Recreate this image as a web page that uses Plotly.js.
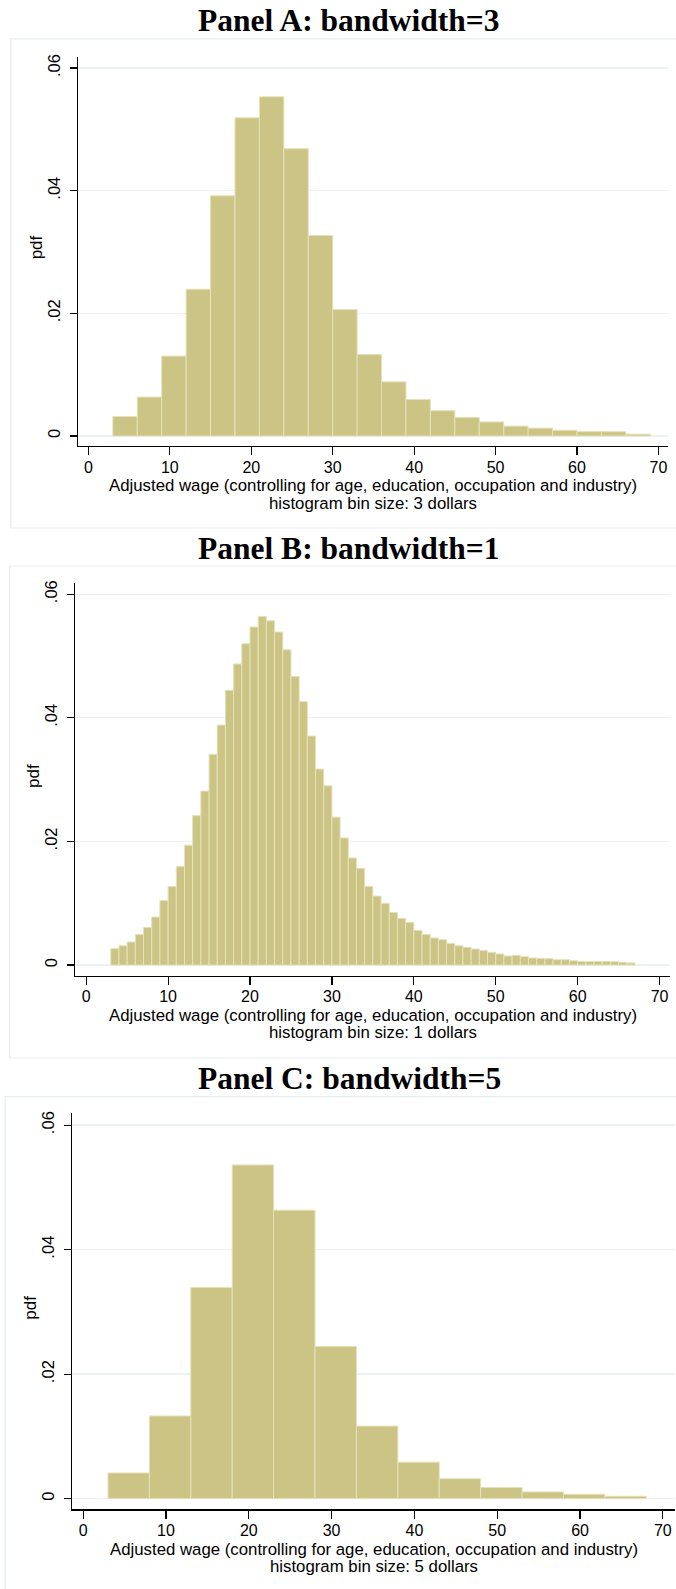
<!DOCTYPE html>
<html>
<head>
<meta charset="utf-8">
<script src="https://cdn.plot.ly/plotly-3.0.1.min.js"></script>
<style>
html,body{margin:0;padding:0;background:#ffffff;}
#chart{width:676px;height:1589px;}
</style>
</head>
<body>
<div id="chart"></div>
<script>
// ---------------- data ----------------
const panelTitles = ["Panel A: bandwidth=3", "Panel B: bandwidth=1", "Panel C: bandwidth=5"];
const xAxisTitle = "Adjusted wage (controlling for age, education, occupation and industry)";
const binNotes = ["histogram bin size: 3 dollars", "histogram bin size: 1 dollars", "histogram bin size: 5 dollars"];
const yAxisTitle = "pdf";

const xTickVals = [0, 10, 20, 30, 40, 50, 60, 70];
const xTickText = ["0", "10", "20", "30", "40", "50", "60", "70"];
const yTickVals = [0, 0.02, 0.04, 0.06];
const yTickText = ["0", ".02", ".04", ".06"];

// Panel A: bin width 3 dollars
const binWidthA = 3;
const binLeftA = [3, 6, 9, 12, 15, 18, 21, 24, 27, 30, 33, 36, 39, 42, 45, 48, 51, 54, 57, 60, 63, 66];
const pdfA = [0.00317, 0.00634, 0.01303, 0.02394, 0.03916, 0.05188, 0.05531, 0.04685, 0.03269, 0.02061,
              0.01328, 0.00883, 0.00596, 0.00413, 0.00304, 0.00230, 0.00161, 0.00128, 0.00093, 0.00071,
              0.00070, 0.00030];

// Panel B: bin width 1 dollar
const binWidthB = 1;
const binLeftB = [3, 4, 5, 6, 7, 8, 9, 10, 11, 12, 13, 14, 15, 16, 17, 18, 19, 20, 21, 22, 23, 24, 25, 26,
                  27, 28, 29, 30, 31, 32, 33, 34, 35, 36, 37, 38, 39, 40, 41, 42, 43, 44, 45, 46, 47, 48,
                  49, 50, 51, 52, 53, 54, 55, 56, 57, 58, 59, 60, 61, 62, 63, 64, 65, 66];
const pdfB = [0.00266, 0.00312, 0.00374, 0.00494, 0.00608, 0.00777, 0.01046, 0.01271, 0.01594, 0.01940,
              0.02418, 0.02814, 0.03410, 0.03882, 0.04444, 0.04871, 0.05197, 0.05468, 0.05640, 0.05570,
              0.05387, 0.05099, 0.04670, 0.04262, 0.03705, 0.03170, 0.02899, 0.02393, 0.02056, 0.01733,
              0.01564, 0.01271, 0.01116, 0.01000, 0.00850, 0.00752, 0.00688, 0.00562, 0.00494, 0.00438,
              0.00410, 0.00350, 0.00312, 0.00288, 0.00260, 0.00234, 0.00206, 0.00180, 0.00147, 0.00158,
              0.00136, 0.00114, 0.00109, 0.00103, 0.00087, 0.00087, 0.00071, 0.00060, 0.00057, 0.00057,
              0.00057, 0.00055, 0.00046, 0.00035];

// Panel C: bin width 5 dollars
const binWidthC = 5;
const binLeftC = [3, 8, 13, 18, 23, 28, 33, 38, 43, 48, 53, 58, 63];
const pdfC = [0.00412, 0.01328, 0.03393, 0.05360, 0.04634, 0.02444, 0.01165, 0.00585, 0.00320,
              0.00179, 0.00108, 0.00070, 0.00038];

// ---------------- layout geometry (pixels) ----------------
const W = 676, H = 1589;
const geom = [
  {L: 78,   R: 668,   T: 56.7,   B: 446,    xr: [-1.28, 71.18], yr: [-0.00163, 0.06185], titleY: 20.3,  box: [10.8, 38.9, 720, 528]},
  {L: 75.4, R: 670,   T: 583.4,  B: 975.6,  xr: [-1.32, 71.28], yr: [-0.00170, 0.06174], titleY: 549.0, box: [9.5, 566, 720, 1058]},
  {L: 72.4, R: 674.6, T: 1113.3, B: 1509.4, xr: [-1.30, 71.42], yr: [-0.00173, 0.06190], titleY: 1078.3, box: [5.2, 1096.7, 720, 1620]}
];

const barFill = "rgb(203,196,132)";
const barLine = "rgb(229,225,186)";
const gridCol = "rgb(234,242,243)";
const boxCol  = "rgb(230,237,239)";
const sansFont = "Liberation Sans, Arial, sans-serif";
const serifFont = "Liberation Serif, Times New Roman, serif";

const px = v => v / W;
const py = v => 1 - v / H;

const series = [
  {left: binLeftA, y: pdfA, w: binWidthA},
  {left: binLeftB, y: pdfB, w: binWidthB},
  {left: binLeftC, y: pdfC, w: binWidthC}
];

const traces = [];
const layout = {
  width: W, height: H,
  margin: {l: 0, r: 0, t: 0, b: 0},
  paper_bgcolor: "#ffffff",
  plot_bgcolor: "rgba(0,0,0,0)",
  showlegend: false,
  annotations: [],
  shapes: []
};

series.forEach((s, i) => {
  const g = geom[i];
  const sfx = i === 0 ? "" : String(i + 1);
  traces.push({
    type: "bar",
    x: s.left,
    y: s.y,
    width: s.left.map(() => s.w),
    offset: 0,
    xaxis: "x" + sfx,
    yaxis: "y" + sfx,
    marker: {color: barFill, line: {color: barLine, width: 1}},
    hoverinfo: "x+y"
  });

  layout["xaxis" + sfx] = {
    domain: [px(g.L), px(g.R)],
    range: g.xr,
    anchor: "y" + sfx,
    tickmode: "array", tickvals: xTickVals, ticktext: xTickText,
    ticks: "outside", ticklen: 8, tickwidth: 1.2, tickcolor: "#000",
    ticklabelstandoff: -2,
    showline: true, linecolor: "#000", linewidth: 1.4,
    showgrid: false, zeroline: false,
    tickfont: {family: sansFont, size: 16, color: "#000"}
  };
  layout["yaxis" + sfx] = {
    domain: [py(g.B), py(g.T)],
    range: g.yr,
    anchor: "x" + sfx,
    tickmode: "array", tickvals: yTickVals, ticktext: yTickText,
    tickangle: -90,
    ticks: "outside", ticklen: 7, tickwidth: 1.2, tickcolor: "#000",
    ticklabelstandoff: 3,
    showline: true, linecolor: "#000", linewidth: 1.4,
    showgrid: true, gridcolor: gridCol, gridwidth: 1.3, zeroline: false,
    tickfont: {family: sansFont, size: 16.5, color: "#000"}
  };

  // panel frame
  layout.shapes.push({
    type: "rect", xref: "paper", yref: "paper",
    x0: px(g.box[0]), x1: px(g.box[2]), y0: py(g.box[3]), y1: py(g.box[1]),
    line: {color: boxCol, width: 1.2}, fillcolor: "rgba(0,0,0,0)", layer: "below"
  });

  // panel title
  layout.annotations.push({
    text: "<b>" + panelTitles[i] + "</b>", xref: "paper", yref: "paper",
    x: px(349), y: py(g.titleY), xanchor: "center", yanchor: "middle", showarrow: false,
    font: {family: serifFont, size: 31.5, color: "#000"}
  });
  // x axis title, two lines
  const cx = px((g.L + g.R) / 2);
  layout.annotations.push({
    text: xAxisTitle, xref: "paper", yref: "paper",
    x: cx, y: py(g.B + 40), xanchor: "center", yanchor: "middle", showarrow: false,
    borderpad: 0,
    font: {family: sansFont, size: 16.8, color: "#000"}
  });
  layout.annotations.push({
    text: binNotes[i], xref: "paper", yref: "paper",
    x: cx, y: py(g.B + 57), xanchor: "center", yanchor: "middle", showarrow: false,
    borderpad: 0,
    font: {family: sansFont, size: 16.8, color: "#000"}
  });
  // y axis title
  layout.annotations.push({
    text: yAxisTitle, xref: "paper", yref: "paper",
    x: px(g.L - 42), y: py((g.T + g.B) / 2 - 4), xanchor: "center", yanchor: "middle", showarrow: false,
    textangle: -90,
    font: {family: sansFont, size: 17, color: "#000"}
  });
});

Plotly.newPlot("chart", traces, layout, {staticPlot: true, displayModeBar: false});
</script>
</body>
</html>
